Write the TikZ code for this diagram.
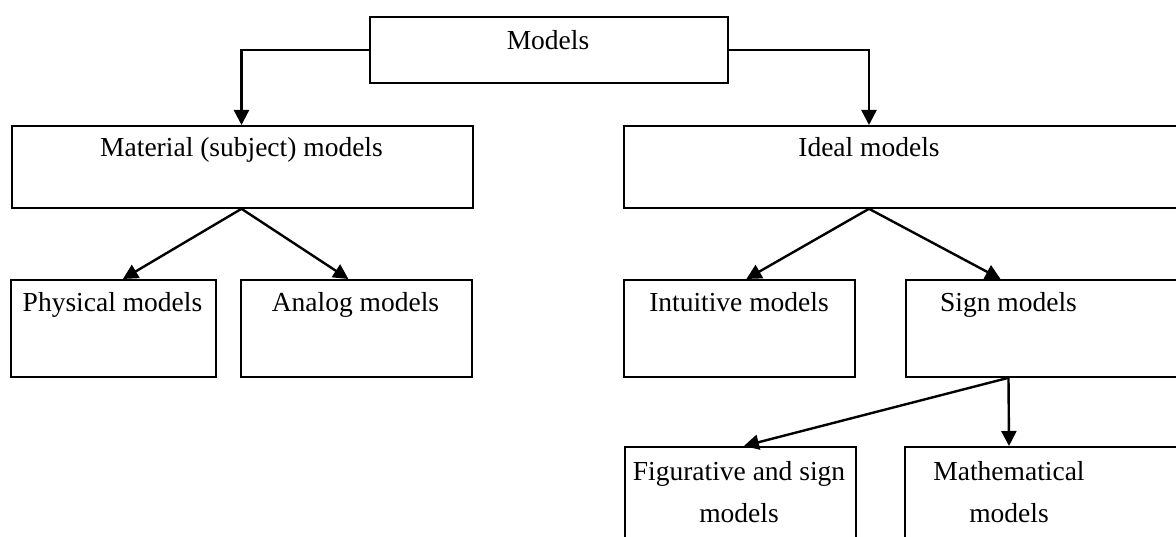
\documentclass[tikz,border=0pt]{standalone}
\usepackage{fontspec}
\setmainfont{Liberation Serif}
\usetikzlibrary{arrows.meta,calc}
\begin{document}
\begin{tikzpicture}[x=1pt,y=-1pt,
  box/.style={draw,line width=1.8pt,rectangle,inner sep=0pt,anchor=north west},
  lbl/.style={anchor=base,inner sep=0pt,font=\fontsize{27.5}{42}\selectfont,align=center},
  arr/.style={line width=2.4pt,-{Triangle[length=15pt,width=15pt]}}]
\useasboundingbox (0,0) rectangle (1176,537);
\clip (0,0) rectangle (1176,537);
% boxes
\node[box,minimum width=358pt,minimum height=66pt] (models) at (369,16) {};
\node[box,minimum width=461pt,minimum height=82pt] (material) at (11,125) {};
\node[box,minimum width=600pt,minimum height=82pt] (ideal) at (623,125) {};
\node[box,minimum width=205pt,minimum height=97pt] (phys) at (10,279) {};
\node[box,minimum width=231pt,minimum height=97pt] (analog) at (240,279) {};
\node[box,minimum width=231pt,minimum height=97pt] (intu) at (623,279) {};
\node[box,minimum width=300pt,minimum height=97pt] (sign) at (905,279) {};
\node[box,minimum width=231pt,minimum height=120pt] (fig) at (624,446) {};
\node[box,minimum width=300pt,minimum height=120pt] (math) at (904,446) {};
% labels
\node[lbl] (modelst) at (548,50) {Models};
\node[lbl] (materialt) at (241.5,157) {Material (subject) models};
\node[lbl] (idealt) at (869,157) {Ideal models};
\node[lbl] (physt) at (112.5,312) {Physical models};
\node[lbl] (analogt) at (355.5,312) {Analog models};
\node[lbl] (intut) at (739,312) {Intuitive models};
\node[lbl] (signt) at (1008.5,312) {Sign models};
\node[lbl] (figt) at (739,522) {Figurative and sign\\models};
\node[lbl] (matht) at (1009,522) {Mathematical\\models};
% connectors
\draw[arr] (models.west) -| (materialt |- material.north);
\draw[arr] (models.east) -| (idealt |- ideal.north);
\draw[arr] (materialt |- material.south) -- ($(phys.north)+(9.5,0)$);
\draw[arr] (materialt |- material.south) -- ($(analog.north)+(-8,0)$);
\draw[arr] (idealt |- ideal.south) -- ($(intu.north)+(7,0)$);
\draw[arr] (idealt |- ideal.south) -- ($(signt |- sign.north)+(-8,0)$);
\draw[arr] (signt |- sign.south) -- ($(fig.north)+(3.5,0)$);
\draw[arr] (signt |- sign.south) -- (matht |- math.north);
\end{tikzpicture}
\end{document}
